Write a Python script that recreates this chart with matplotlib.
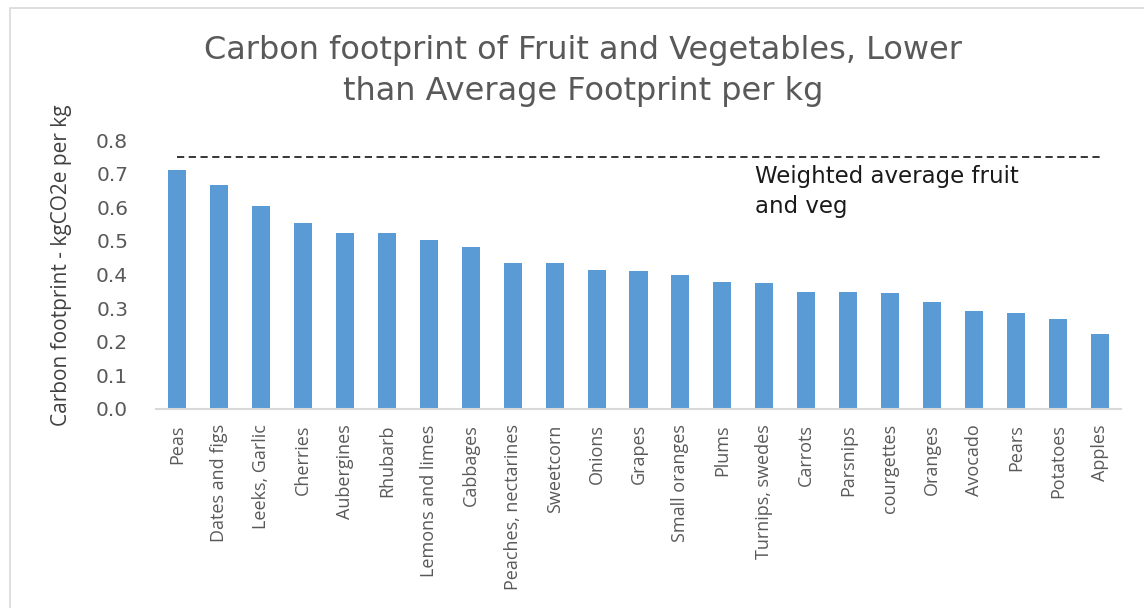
import matplotlib
matplotlib.use("Agg")
import matplotlib.pyplot as plt
from matplotlib.patches import Rectangle

# Carbon footprint per kg of produce (kgCO2e per kg)
categories = [
    "Peas", "Dates and figs", "Leeks, Garlic", "Cherries", "Aubergines",
    "Rhubarb", "Lemons and limes", "Cabbages", "Peaches, nectarines",
    "Sweetcorn", "Onions", "Grapes", "Small oranges", "Plums",
    "Turnips, swedes", "Carrots", "Parsnips", "courgettes", "Oranges",
    "Avocado", "Pears", "Potatoes", "Apples",
]
footprint = [
    0.712, 0.665, 0.605, 0.553, 0.524,
    0.524, 0.504, 0.481, 0.433,
    0.433, 0.414, 0.409, 0.399, 0.378,
    0.376, 0.348, 0.348, 0.344, 0.319,
    0.292, 0.286, 0.268, 0.224,
]
weighted_average = 0.75
y_ticks = [0.0, 0.1, 0.2, 0.3, 0.4, 0.5, 0.6, 0.7, 0.8]

fig = plt.figure(figsize=(11.44, 6.08), dpi=100)
fig.patch.set_facecolor("white")

# light chart frame
fig.add_artist(Rectangle((10 / 1144, -0.05), 1.2, 1 - 8 / 608 + 0.05,
                         transform=fig.transFigure, fill=False,
                         edgecolor="#d9d9d9", linewidth=1.2))

ax = fig.add_axes([156 / 1144, 1 - 409 / 608, (1121 - 156) / 1144, (409 - 140) / 608])
x = range(len(categories))
ax.bar(x, footprint, width=0.43, color="#5b9bd5", zorder=2)

ax.set_xlim(-0.5, len(categories) - 0.5)
ax.set_ylim(0, 0.8)
ax.set_yticks(y_ticks)
ax.set_yticklabels([f"{t:.1f}" for t in y_ticks], fontfamily="DejaVu Sans",
                   fontsize=14.5, color="#595959")
ax.set_xticks(list(x))
ax.set_xticklabels(categories, rotation=90, fontfamily="Open Sans",
                   fontsize=13, color="#595959")
ax.tick_params(axis="both", length=0)
ax.tick_params(axis="y", pad=20)
ax.tick_params(axis="x", pad=11)

for side in ("top", "right", "left"):
    ax.spines[side].set_visible(False)
ax.spines["bottom"].set_color("#d9d9d9")
ax.spines["bottom"].set_linewidth(1.5)

ax.plot([0, len(categories) - 1], [weighted_average, weighted_average],
        linestyle=(0, (4, 2.5)), color="#262626", linewidth=1.3, zorder=3)
ax.text(13.78, 0.727, "Weighted average fruit\nand veg", fontfamily="DejaVu Sans",
        fontsize=16.5, color="#1a1a1a", ha="left", va="top", linespacing=1.4)

ax.set_ylabel("Carbon footprint - kgCO2e per kg", fontfamily="Open Sans",
              fontsize=15, color="#404040")
ax.yaxis.set_label_coords(-0.087, 0.535)

fig.text(583 / 1144, 1 - 71 / 608,
         "Carbon footprint of Fruit and Vegetables, Lower\nthan Average Footprint per kg",
         fontfamily="DejaVu Sans", fontsize=23, color="#595959",
         ha="center", va="center", linespacing=1.45)

fig.savefig("out.png", dpi=100, facecolor="white")
